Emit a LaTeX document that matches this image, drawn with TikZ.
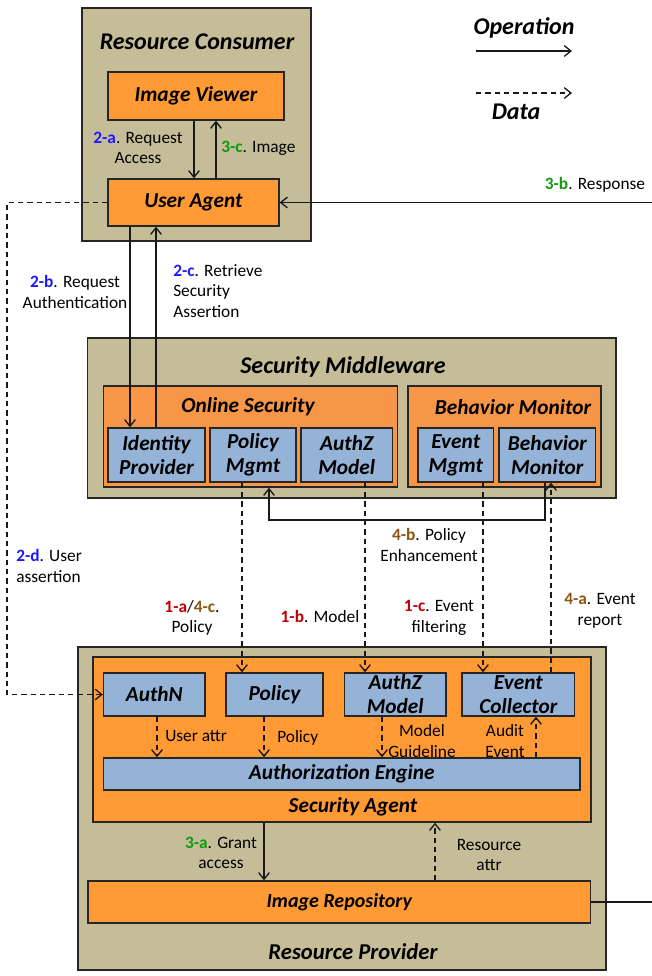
\documentclass[tikz,border=0pt]{standalone}
\usepackage{fontspec}
\setmainfont{Carlito}
\usetikzlibrary{arrows.meta}
\definecolor{tanbg}{HTML}{C4BD97}
\definecolor{boxorange}{HTML}{FF9A35}
\definecolor{frameorange}{HTML}{F79646}
\definecolor{boxblue}{HTML}{95B3D7}
\definecolor{stepblue}{HTML}{1A1AFF}
\definecolor{stepgreen}{HTML}{109A10}
\definecolor{stepred}{HTML}{C00000}
\definecolor{stepbrown}{HTML}{8C5514}
% coloured step number in front of a label
\newcommand{\stepmark}[2]{\textcolor{#1}{\textbf{#2}}}
\tikzset{
  % The 'frame-outer' style is the tan frame of one tier
  frame-outer/.style={draw=black!85, fill=tanbg, line width=1pt, inner sep=0pt},
  % The 'frame-orange' style groups the components inside the middleware
  frame-orange/.style={draw=black!85, fill=frameorange, line width=1pt, inner sep=0pt},
  % The 'box-orange' style is for an application component
  box-orange/.style={draw=black!85, fill=boxorange, line width=1pt, inner sep=0pt,
    font=\fontsize{16}{18}\selectfont\bfseries\itshape, align=center},
  % The 'box-blue' style is for a security component
  box-blue/.style={draw=black!85, fill=boxblue, line width=1pt, inner sep=0pt,
    font=\fontsize{16}{18}\selectfont\bfseries\itshape, align=center},
  % The 'title-text' style names a tier
  title-text/.style={font=\fontsize{18}{21}\selectfont\bfseries\itshape, inner sep=0pt},
  % The 'subtitle-text' style names a group or the agent
  subtitle-text/.style={font=\fontsize{16}{18}\selectfont\bfseries\itshape, inner sep=0pt},
  % The 'label-text' style is for the text along the arrows
  label-text/.style={font=\fontsize{13}{15.5}\selectfont, align=center, inner sep=0pt},
  % The 'op-arrow' style is a solid operation arrow
  op-arrow/.style={draw=black!90, line width=1pt, -{Straight Barb[length=5pt,width=8pt]}},
  % The 'data-arrow' style is a dashed data arrow
  data-arrow/.style={op-arrow, dash pattern=on 4pt off 3pt}
}
\begin{document}
\begin{tikzpicture}[x=0.75pt, y=-0.75pt]
  \useasboundingbox (0,0) rectangle (651,976);

  % Legend
  \node[title-text] (op-legend) at (524,28) {Operation};
  \coordinate (op-start) at (476,51);
  \coordinate (op-end) at (572,51);
  \coordinate (data-start) at (476,93);
  \coordinate (data-end) at (572,93);
  \node[title-text] (data-legend) at (516,112) {Data};

  % Resource Consumer tier
  \node[frame-outer, minimum width=171.75pt, minimum height=174.75pt] (consumer) at (196.5,124.5) {};
  \node[title-text] (consumer-title) at (197,42) {Resource Consumer};
  \node[box-orange, minimum width=132pt, minimum height=36pt] (viewer) at (196,96) {Image Viewer};
  \node[box-orange, minimum width=128.25pt, minimum height=35.25pt] (user-agent) at (193.5,202.5) {User Agent};

  % Security Middleware tier
  \node[frame-outer, minimum width=396.4pt, minimum height=120pt] (middleware) at (351.75,418) {};
  \node[title-text] (middleware-title) at (343,367) {Security Middleware};
  \node[frame-orange, minimum width=220.5pt, minimum height=75.75pt] (online) at (250.5,436.5) {};
  \node[subtitle-text] (online-title) at (248,407) {Online Security};
  \node[frame-orange, minimum width=144.75pt, minimum height=75.75pt] (behavior) at (504.5,436.5) {};
  \node[subtitle-text] (behavior-title) at (513,407) {Behavior Monitor};
  \node[box-blue, minimum width=72.75pt, minimum height=40.5pt] (idp) at (156.5,455) {Identity\\Provider};
  \node[box-blue, minimum width=64.5pt, minimum height=40.5pt] (pol-mgmt) at (253,455) {Policy\\Mgmt};
  \node[box-blue, minimum width=68.6pt, minimum height=40.5pt] (authz-mgmt) at (346.75,455) {AuthZ\\Model};
  \node[box-blue, minimum width=56.6pt, minimum height=40.5pt] (event-mgmt) at (455.75,455) {Event\\Mgmt};
  \node[box-blue, minimum width=72.5pt, minimum height=40.5pt] (beh-mon) at (547.3,455) {Behavior\\Monitor};

  % Resource Provider tier
  \node[frame-outer, minimum width=396pt, minimum height=242.25pt] (provider) at (342,808.5) {};
  \node[title-text, font=\fontsize{17}{20}\selectfont\bfseries\itshape] (provider-title) at (353,952) {Resource Provider};
  \node[box-orange, minimum width=373.5pt, minimum height=123.75pt] (agent) at (342,739.5) {};
  \node[subtitle-text] (agent-title) at (353,807) {Security Agent};
  \node[box-blue, minimum width=76.1pt, minimum height=32.25pt] (authn) at (154.25,694.5) {AuthN};
  \node[box-blue, minimum width=72.75pt, minimum height=32.25pt] (policy) at (274.5,694.5) {Policy};
  \node[box-blue, minimum width=76.1pt, minimum height=32.25pt] (authz) at (395.25,694.5) {AuthZ\\Model};
  \node[box-blue, minimum width=84.45pt, minimum height=32.25pt] (collector) at (518.3,694.5) {Event\\Collector};
  \node[box-blue, minimum width=357.4pt, minimum height=24pt] (engine) at (341.75,774) {Authorization Engine};
  \node[box-orange, minimum width=377pt, minimum height=31.5pt, font=\fontsize{15}{18}\selectfont\bfseries\itshape] (repo) at (339.3,902) {Image Repository};

  % Legend arrows
  \draw[op-arrow] (op-start) -- (op-end);
  \draw[data-arrow] (data-start) -- (data-end);

  % Image Viewer and User Agent
  \draw[op-arrow] (viewer.south -| 194,0) -- (user-agent.north -| 194,0);
  \draw[op-arrow] (user-agent.north -| 216,0) -- (viewer.south -| 216,0);
  \node[label-text] (lbl-2a) at (138,148) {\stepmark{stepblue}{2-a}. Request\\Access};
  \node[label-text, anchor=west] (lbl-3c) at (221,148) {\stepmark{stepgreen}{3-c}. Image};

  % User Agent and Identity Provider
  \draw[op-arrow] (user-agent.south -| 130,0) -- (idp.north -| 130,0);
  \draw[op-arrow] (idp.north -| 156,0) -- (user-agent.south -| 156,0);
  \node[label-text] (lbl-2b) at (75,292) {\stepmark{stepblue}{2-b}. Request\\Authentication};
  \node[label-text, anchor=west, align=left] (lbl-2c) at (173,291) {\stepmark{stepblue}{2-c}. Retrieve\\Security\\Assertion};

  % User assertion down to AuthN
  \draw[data-arrow] (user-agent.west) -- (7,202.5) |- (authn.west);
  \node[label-text, anchor=west, align=left] (lbl-2d) at (16,566) {\stepmark{stepblue}{2-d}. User\\assertion};

  % Response from the repository back to the User Agent
  \draw[op-arrow] (repo.east) -- (670,902) |- (user-agent.east);
  \node[label-text] (lbl-3b) at (595,185) {\stepmark{stepgreen}{3-b}. Response};

  % Middleware down to the agent
  \draw[data-arrow] (pol-mgmt.south -| 242,0) -- (policy.north -| 242,0);
  \draw[data-arrow] (authz-mgmt.south -| 365,0) -- (authz.north -| 365,0);
  \draw[data-arrow] (event-mgmt.south -| 483,0) -- (collector.north -| 483,0);
  \draw[data-arrow] (collector.north -| 551,0) -- (beh-mon.south -| 551,0);
  \draw[op-arrow] (beh-mon.south -| 545,0) -- (545,520) -| (online.south -| 269,0);
  \node[label-text] (lbl-1a) at (192,618) {\stepmark{stepred}{1-a}/\stepmark{stepbrown}{4-c}.\\Policy};
  \node[label-text] (lbl-1b) at (320,616) {\stepmark{stepred}{1-b}. Model};
  \node[label-text] (lbl-1c) at (439,618) {\stepmark{stepred}{1-c}. Event\\filtering};
  \node[label-text] (lbl-4a) at (600,611) {\stepmark{stepbrown}{4-a}. Event\\report};
  \node[label-text] (lbl-4b) at (429,545) {\stepmark{stepbrown}{4-b}. Policy\\Enhancement};

  % Inside the Security Agent
  \draw[data-arrow] (authn.south -| 157,0) -- (engine.north -| 157,0);
  \draw[data-arrow] (policy.south -| 264,0) -- (engine.north -| 264,0);
  \draw[data-arrow] (authz.south -| 382,0) -- (engine.north -| 382,0);
  \draw[data-arrow] (engine.north -| 536,0) -- (collector.south -| 536,0);
  \node[label-text, anchor=west] (lbl-user-attr) at (165,736) {User attr};
  \node[label-text, anchor=west] (lbl-policy) at (277,738) {Policy};
  \node[label-text] (lbl-model) at (422,741) {Model\\Guideline};
  \node[label-text] (lbl-audit) at (505,741) {Audit\\Event};

  % Agent and Image Repository
  \draw[op-arrow] (agent.south -| 264,0) -- (repo.north -| 264,0);
  \draw[data-arrow] (repo.north -| 435,0) -- (agent.south -| 435,0);
  \node[label-text] (lbl-3a) at (221,853) {\stepmark{stepgreen}{3-a}. Grant\\access};
  \node[label-text] (lbl-res-attr) at (489,855) {Resource\\attr};

\end{tikzpicture}
\end{document}
